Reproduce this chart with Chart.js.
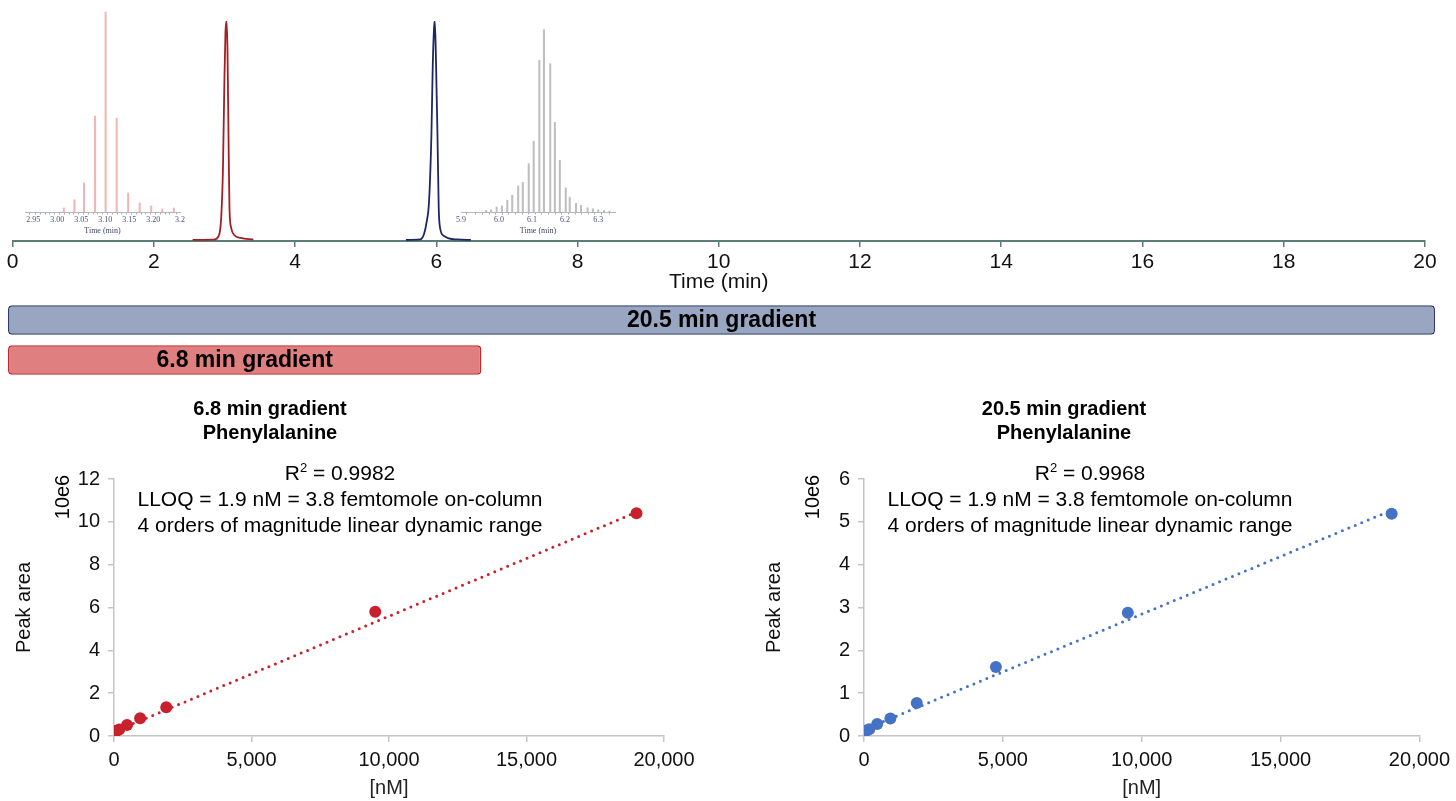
<!DOCTYPE html>
<html>
<head>
<meta charset="utf-8">
<script src="https://cdn.jsdelivr.net/npm/chart.js@4.4.1/dist/chart.umd.min.js"></script>
<style>
  html, body { margin: 0; padding: 0; background: #fff; }
  #wrap { position: relative; width: 1456px; height: 801px; overflow: hidden; }
  .box { position: absolute; }
</style>
</head>
<body>
<div id="wrap">
  <div class="box" style="left:0;top:0;width:1456px;height:300px"><canvas id="chrom"></canvas></div>
  <div class="box" style="left:15px;top:0;width:180px;height:240px"><canvas id="insetRed"></canvas></div>
  <div class="box" style="left:450px;top:0;width:180px;height:240px"><canvas id="insetGray"></canvas></div>
  <div class="box" style="left:0;top:300px;width:1456px;height:80px"><canvas id="grad"></canvas></div>
  <div class="box" style="left:0;top:390px;width:730px;height:411px"><canvas id="calLeft"></canvas></div>
  <div class="box" style="left:750px;top:390px;width:706px;height:411px"><canvas id="calRight"></canvas></div>
</div>
<script>
// chromatogram traces (min, normalised intensity)
const redTime = [2.55, 2.85, 2.92, 2.955, 2.98, 3.0, 3.015, 3.03, 3.044, 3.058, 3.072, 3.096, 3.14, 3.23, 3.41];
const redSignal = [0.005, 0.006, 0.023, 0.105, 0.33, 0.72, 0.945, 1.0, 0.87, 0.49, 0.15, 0.06, 0.027, 0.014, 0.007];
const blueTime = [5.57, 5.77, 5.827, 5.866, 5.898, 5.932, 5.95, 5.969, 5.979, 5.993, 6.017, 6.035, 6.054, 6.11, 6.3, 6.49];
const blueSignal = [0.005, 0.007, 0.032, 0.09, 0.18, 0.49, 0.79, 0.97, 1.0, 0.87, 0.49, 0.15, 0.06, 0.023, 0.007, 0.005];

// zoomed scan insets
const redScanTime = [3.014, 3.036, 3.056, 3.079, 3.101, 3.124, 3.148, 3.172, 3.196, 3.219, 3.243];
const redScanInt = [0.02, 0.06, 0.144, 0.475, 0.99, 0.465, 0.094, 0.045, 0.03, 0.015, 0.02];
const grayScanTime = [5.961, 5.976, 5.993, 6.009, 6.025, 6.040, 6.058, 6.072, 6.090, 6.105, 6.122, 6.136,
  6.155, 6.169, 6.184, 6.202, 6.214, 6.233, 6.248, 6.268, 6.284, 6.300, 6.318, 6.334];
const grayScanInt = [0.008, 0.011, 0.025, 0.03, 0.058, 0.083, 0.129, 0.147, 0.239, 0.351, 0.751, 0.902,
  0.734, 0.444, 0.256, 0.119, 0.073, 0.043, 0.033, 0.021, 0.016, 0.011, 0.008, 0.005];

// gradient lengths (min)
const gradLabels = ["20.5 min gradient", "6.8 min gradient"];
const gradLengths = [20.5, 6.8];

// calibration curves ([nM], peak area x 10e6)
const concLeft = [1.9, 19, 95, 190, 475, 950, 1900, 9500, 19000];
const areaLeft = [0.2, 0.22, 0.25, 0.3, 0.51, 0.83, 1.34, 5.8, 10.4];
const concRight = [1.9, 19, 95, 190, 475, 950, 1900, 4750, 9500, 19000];
const areaRight = [0.1, 0.11, 0.13, 0.16, 0.28, 0.41, 0.77, 1.61, 2.88, 5.19];
const trendConc = [0, 19000];
const trendLeft = [0.2, 10.45];
const trendRight = [0.15, 5.27];

const SANS = '"Liberation Sans", Arial, Helvetica, sans-serif';
const SERIF = '"Liberation Serif", "Times New Roman", serif';
const pts = (xs, ys) => xs.map((x, i) => ({ x: x, y: ys[i] }));

// ---------- top chromatogram ----------
new Chart(document.getElementById("chrom"), {
  type: "line",
  data: {
    datasets: [
      { data: pts(redTime, redSignal), borderColor: "#a41e23", borderWidth: 1.8, pointRadius: 0, cubicInterpolationMode: "monotone" },
      { data: pts(blueTime, blueSignal), borderColor: "#1d2766", borderWidth: 1.8, pointRadius: 0, cubicInterpolationMode: "monotone" },
    ],
  },
  options: {
    responsive: true, maintainAspectRatio: false, animation: false,
    layout: { padding: { left: 12.5, right: 31, top: 21, bottom: 0 } },
    plugins: { legend: { display: false }, tooltip: { enabled: false } },
    scales: {
      x: {
        type: "linear", min: 0, max: 20,
        ticks: { stepSize: 2, color: "#111", font: { family: SANS, size: 21 }, padding: 3, maxRotation: 0 },
        grid: { drawOnChartArea: false, drawTicks: true, tickLength: 6, color: "#5b7d7a", lineWidth: 1.5 },
        border: { color: "#5b7d7a", width: 2 },
        title: { display: true, text: "Time (min)", color: "#111", font: { family: SANS, size: 21 }, padding: { top: 0, bottom: 5 } },
        afterFit: (s) => { s.height = 59; },
      },
      y: { display: false, min: 0, max: 1 },
    },
  },
});

// ---------- scan insets ----------
function inset(id, xs, ys, color, min, max, step, labelStep, digits, lastLabel) {
  new Chart(document.getElementById(id), {
    type: "bar",
    data: { datasets: [{ data: pts(xs, ys), backgroundColor: color, barThickness: 1.4, grouped: false }] },
    options: {
      responsive: true, maintainAspectRatio: false, animation: false,
      layout: { padding: { left: id === "insetRed" ? 10 : 11, right: 15, top: 10, bottom: 0 } },
      plugins: { legend: { display: false }, tooltip: { enabled: false } },
      scales: {
        x: {
          type: "linear", min: min, max: max, offset: false,
          ticks: {
            stepSize: step, autoSkip: false, maxRotation: 0, padding: 1,
            color: "#4a5276", font: { family: SERIF, size: 8 },
            callback: (v) => {
              const near = Math.round(v / labelStep) * labelStep;
              if (Math.abs(v - near) > step * 0.8) return "";
              if (lastLabel && near > max - labelStep / 2) return lastLabel;
              return near.toFixed(digits);
            },
          },
          grid: { drawOnChartArea: false, tickLength: 2.5, color: "#a9aab4", lineWidth: 1 },
          border: { color: "#b5b6bd", width: 1 },
          title: { display: true, text: "Time (min)", color: "#3e4562", font: { family: SERIF, size: 8 }, padding: { top: 0, bottom: 4 } },
          afterFit: (s) => { s.height = 28; },
        },
        y: { display: false, min: 0, max: 1 },
      },
    },
  });
}
inset("insetRed", redScanTime, redScanInt, "#f1b5b5", 2.933, 3.256, 0.01, 0.05, 2, "3.2");
inset("insetGray", grayScanTime, grayScanInt, "#bfbfbf", 5.885, 6.351, 0.02, 0.1, 1, null);

// ---------- gradient bars ----------
const barText = {
  id: "barText",
  afterDatasetsDraw(chart) {
    const ctx = chart.ctx;
    ctx.save();
    ctx.font = 'bold 23px ' + SANS;
    ctx.fillStyle = "#000";
    ctx.textAlign = "center";
    ctx.textBaseline = "middle";
    chart.getDatasetMeta(0).data.forEach((bar, i) => {
      ctx.fillText(gradLabels[i], (bar.x + bar.base) / 2, bar.y + 1);
    });
    ctx.restore();
  },
};
new Chart(document.getElementById("grad"), {
  type: "bar",
  data: {
    labels: gradLabels,
    datasets: [{
      data: gradLengths.map((v) => [0, v]),
      backgroundColor: ["#99a6c1", "#e07f7f"],
      borderColor: ["#2c3a6e", "#c7252c"],
      borderWidth: 1.5, borderSkipped: false, borderRadius: 4,
      barPercentage: 0.74, categoryPercentage: 1,
    }],
  },
  options: {
    indexAxis: "y",
    responsive: true, maintainAspectRatio: false, animation: false,
    layout: { padding: { left: 8, right: 21, top: 0, bottom: 0 } },
    plugins: { legend: { display: false }, tooltip: { enabled: false } },
    scales: {
      x: { display: false, min: 0, max: 20.5 },
      y: { display: false },
    },
  },
  plugins: [barText],
});

// ---------- calibration curves ----------
const calText = {
  id: "calText",
  afterDraw(chart, args, o) {
    const ctx = chart.ctx;
    ctx.save();
    ctx.fillStyle = "#000";
    ctx.textBaseline = "middle";
    ctx.textAlign = "center";
    ctx.font = "bold 20px " + SANS;
    ctx.fillText(o.title[0], o.titleX, 19);
    ctx.fillText(o.title[1], o.titleX, 43);

    // R² line with superscript
    ctx.font = "13px " + SANS;
    const w2 = ctx.measureText("2").width;
    ctx.font = "21px " + SANS;
    const a = "R", b = " = " + o.r2;
    const wa = ctx.measureText(a).width, wb = ctx.measureText(b).width;
    const x = o.noteX - (wa + w2 + wb) / 2;
    ctx.textAlign = "left";
    ctx.fillText(a, x, 84);
    ctx.font = "13px " + SANS;
    ctx.fillText("2", x + wa, 78);
    ctx.font = "21px " + SANS;
    ctx.fillText(b, x + wa + w2, 84);

    ctx.textAlign = "center";
    o.notes.forEach((t, i) => ctx.fillText(t, o.noteX, 110 + i * 26));

    // axis multiplier
    ctx.font = "20px " + SANS;
    ctx.translate(63, 107);
    ctx.rotate(-Math.PI / 2);
    ctx.fillText("10e6", 0, 0);
    ctx.restore();
  },
};

function calChart(id, conc, area, trend, color, yMax, yStep, title, r2, padRight) {
  new Chart(document.getElementById(id), {
    type: "scatter",
    data: {
      datasets: [
        {
          data: pts(trendConc, trend), showLine: true, borderColor: color, borderWidth: 3,
          borderDash: [0, 7], borderCapStyle: "round", pointRadius: 0, order: 2,
        },
        { data: pts(conc, area), backgroundColor: color, borderWidth: 0, pointRadius: 6, order: 1 },
      ],
    },
    options: {
      responsive: true, maintainAspectRatio: false, animation: false,
      layout: { padding: { left: 0, right: padRight, top: 89, bottom: 0 } },
      plugins: {
        legend: { display: false }, tooltip: { enabled: false },
        calText: {
          title: [title, "Phenylalanine"], titleX: id === "calLeft" ? 270 : 314,
          r2: r2, noteX: 340,
          notes: ["LLOQ = 1.9 nM = 3.8 femtomole on-column", "4 orders of magnitude linear dynamic range"],
        },
      },
      scales: {
        x: {
          type: "linear", min: 0, max: 20000,
          ticks: { stepSize: 5000, color: "#111", font: { family: SANS, size: 20 }, padding: 6, maxRotation: 0,
            callback: (v) => v.toLocaleString("en-US") },
          grid: { drawOnChartArea: false, tickLength: 6, color: "#c4c4c4", lineWidth: 1.5 },
          border: { color: "#c4c4c4", width: 1.5 },
          title: { display: true, text: "[nM]", color: "#222", font: { family: SANS, size: 20 }, padding: { top: 0, bottom: 1 } },
          afterFit: (s) => { s.height = 65; },
        },
        y: {
          min: 0, max: yMax,
          ticks: { stepSize: yStep, color: "#111", font: { family: SANS, size: 20 }, padding: 8 },
          grid: { drawOnChartArea: false, tickLength: 6, color: "#c4c4c4", lineWidth: 1.5 },
          border: { color: "#c4c4c4", width: 1.5 },
          title: { display: true, text: "Peak area", color: "#111", font: { family: SANS, size: 20 }, padding: { top: 12, bottom: 0 } },
          afterFit: (s) => { s.width = 114; },
        },
      },
    },
    plugins: [calText],
  });
}
calChart("calLeft", concLeft, areaLeft, trendLeft, "#c9212b", 12, 2, "6.8 min gradient", "0.9982", 66);
calChart("calRight", concRight, areaRight, trendRight, "#4472c4", 6, 1, "20.5 min gradient", "0.9968", 34);
</script>
</body>
</html>
